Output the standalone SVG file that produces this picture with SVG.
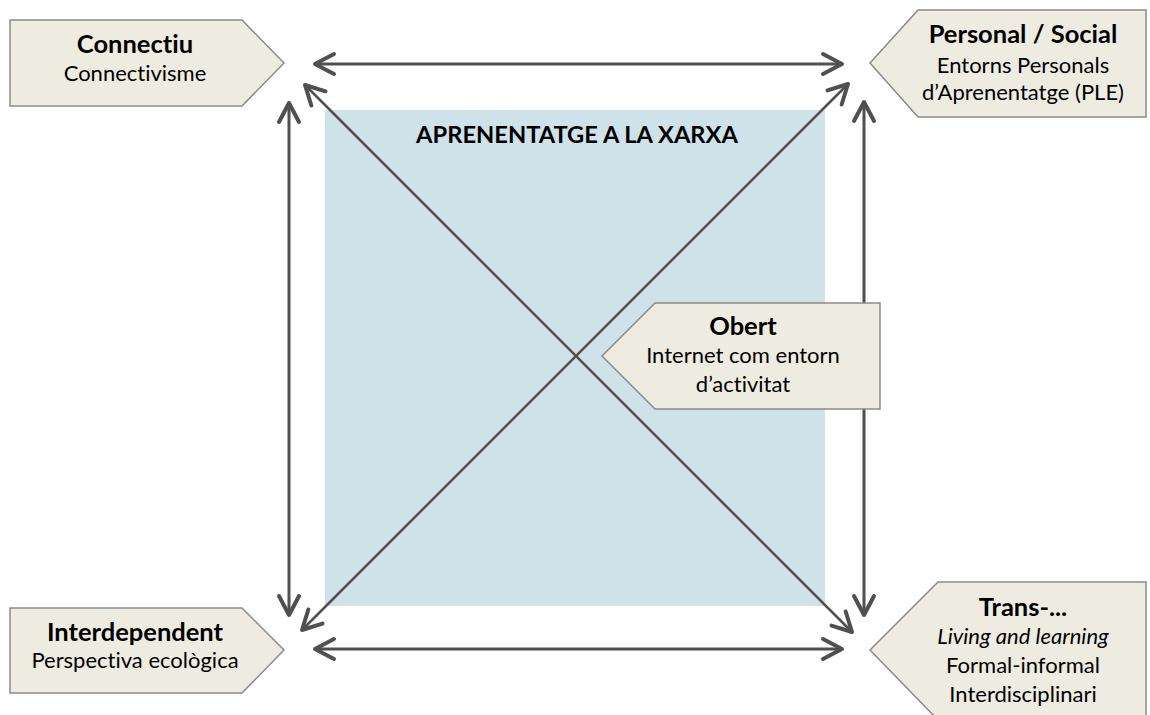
<svg xmlns="http://www.w3.org/2000/svg" width="1150" height="715" viewBox="0 0 1150 715">
<style>
.box{fill:#eeece1;stroke:#8a8a8a;stroke-width:1.5}
.t{font-family:Lato,"Liberation Sans",sans-serif;text-anchor:middle;fill:#000;font-variant-ligatures:none}
.b{font-weight:bold;font-size:25.5px}
.r{font-size:22px}
.i{font-style:italic}
.ln{stroke:#505050;stroke-width:3;fill:none;marker-start:url(#ah);marker-end:url(#ah)}
.dg{stroke-width:2.5}
</style>
<defs>
<marker id="ah" markerUnits="userSpaceOnUse" viewBox="-25 -15 30 30" markerWidth="30" markerHeight="30" refX="0" refY="0" orient="auto-start-reverse" overflow="visible">
<path d="M-19,-10 L0,0 L-19,10" fill="none" stroke="#505050" stroke-width="4" stroke-linecap="round" stroke-linejoin="round"/>
</marker>
</defs>
<rect x="0" y="0" width="1150" height="715" fill="#fff"/>
<rect id="xarxa" x="325" y="110" width="500" height="496" fill="#cfe2e9"/>
<text class="t" x="577" y="143" style="font-weight:bold;font-size:23.7px">APRENENTATGE A LA XARXA</text>
<g id="connectors">
<line class="ln" x1="315" y1="64" x2="842" y2="64"/>
<line class="ln" x1="315" y1="649" x2="842" y2="649"/>
<line class="ln" x1="289" y1="103" x2="289" y2="615"/>
<line class="ln" x1="864" y1="102" x2="864" y2="615"/>
<line class="ln dg" x1="305" y1="85" x2="852" y2="632"/>
<line class="ln dg" x1="302" y1="630" x2="848" y2="84"/>
</g>
<g id="connectiu">
<polygon class="box" points="10,20 242,20 284,63 242,106 10,106"/>
<text class="t b" x="135" y="53">Connectiu</text>
<text class="t r" x="135" y="81">Connectivisme</text>
</g>
<g id="personal">
<polygon class="box" points="870,63 918,10 1146,10 1146,117 918,117"/>
<text class="t b" x="1023" y="43">Personal / Social</text>
<text class="t r" x="1023" y="73">Entorns Personals</text>
<text class="t r" x="1023" y="100">d’Aprenentatge (PLE)</text>
</g>
<g id="obert">
<polygon class="box" points="602,356 655,303 880,303 880,409 655,409"/>
<text class="t b" x="743" y="335">Obert</text>
<text class="t r" x="743" y="363">Internet com entorn</text>
<text class="t r" x="743" y="392">d’activitat</text>
</g>
<g id="interdependent">
<polygon class="box" points="10,608 242,608 284,650 242,693 10,693"/>
<text class="t b" x="135" y="641">Interdependent</text>
<text class="t r" x="135" y="668">Perspectiva ecològica</text>
</g>
<g id="trans">
<polygon class="box" points="870,650 938,582 1146,582 1146,720 938,720"/>
<text class="t b" x="1023" y="616">Trans-...</text>
<text class="t r i" x="1023" y="644">Living and learning</text>
<text class="t r" x="1023" y="673">Formal-informal</text>
<text class="t r" x="1023" y="702">Interdisciplinari</text>
</g>
</svg>
